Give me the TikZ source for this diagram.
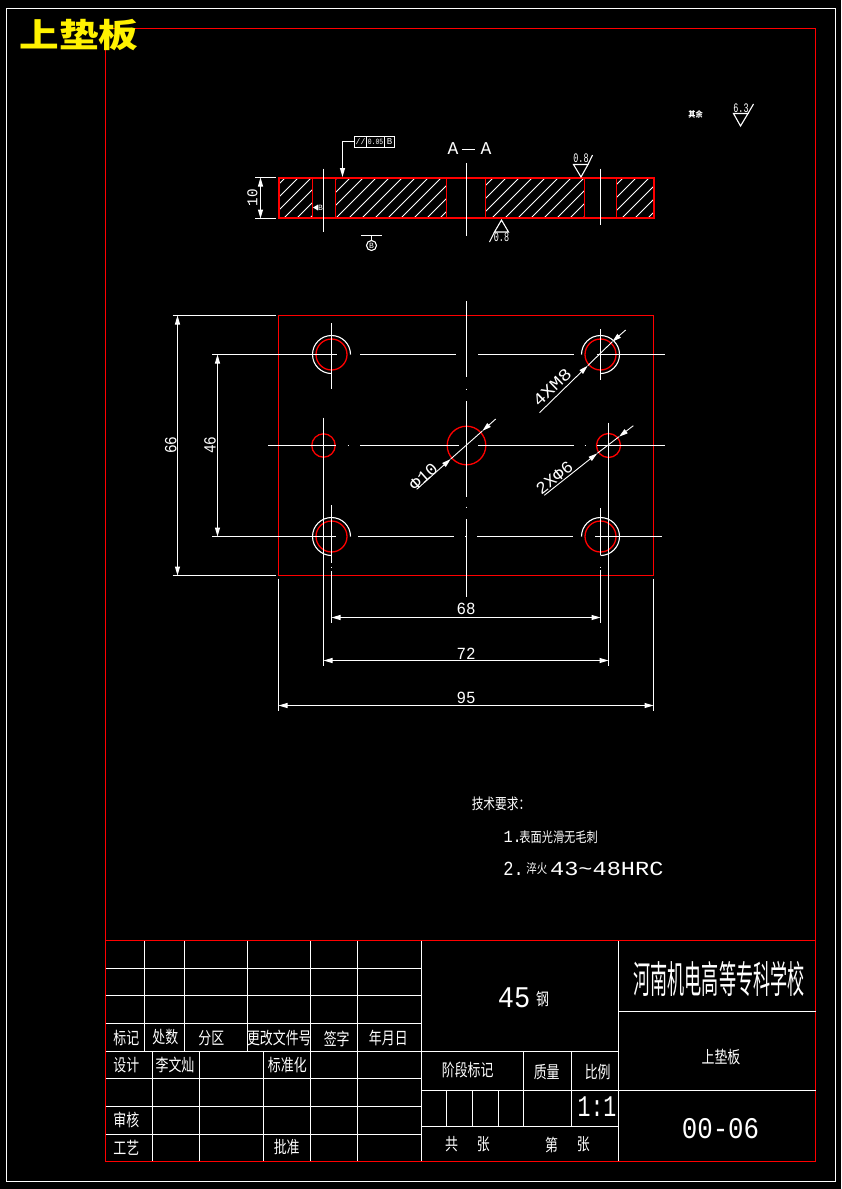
\documentclass[tikz,border=0pt]{standalone}
\usepackage{fontspec}
\newfontfamily\cjkfont{Noto Sans CJK SC}
\newfontfamily\cadfont{Liberation Mono}
\usetikzlibrary{arrows.meta}
\begin{document}
\begin{tikzpicture}
  [x=1pt, y=-1pt, line width=1.1pt, white,
    >={Stealth[length=9pt,width=5pt,inset=0pt]},
    redline/.style={%
      red, line width=1.3pt
    },
    sectionline/.style={%
      red, line width=2pt
    },
    hatchline/.style={%
      white, line width=0.8pt
    },
    dimline/.style={%
      white, line width=1pt
    },
    diagline/.style={%
      white, line width=0.9pt
    },
    cn/.style 2 args={%
      text=white, inner sep=0pt, xscale=#2, transform shape,
      font=\cjkfont\fontsize{#1}{#1}\selectfont
    },
    tablecn/.style={%
      cn={17}{0.76}
    },
    cad/.style 2 args={%
      text=white, inner sep=0pt, xscale=#2, transform shape,
      font=\cadfont\fontsize{#1}{#1}\selectfont
    },
    dimtext/.style={%
      cad={17}{#1}
    },
    dimtext/.default=0.93,
  ]

  \useasboundingbox (0,0) rectangle (841,1189);
  \fill[black] (0,0) rectangle (841,1189);

  % sheet frames
  \draw (6.5,8.5) rectangle (835.5,1181.5);
  \draw[redline] (105.5,28.5) rectangle (815.5,1161.5);

  % section A-A
  \foreach \xa/\xb in {278.5/312.5, 335.5/446.5, 485.5/584.5, 616.5/653.5}{
    \begin{scope}
      \clip (\xa,177.5) rectangle (\xb,218.5);
      \foreach \k in {450,463,...,880}
        \draw[hatchline] (\k-177,177) -- (\k-219,219);
    \end{scope}
  }
  \draw[sectionline] (278.5,178) rectangle (653.5,218);
  \foreach \xa in {312.5,335.5,446.5,485.5,584.5,616.5}
    \draw[redline] (\xa,178) -- (\xa,218);

  \draw (323.5,168.5) -- (323.5,231.5);
  \draw (466.5,163) -- (466.5,235.5);
  \draw (600.5,168.5) -- (600.5,224.5);

  % thickness dimension
  \draw[dimline] (255,177.5) -- (276,177.5);
  \draw[dimline] (255,218.5) -- (276,218.5);
  \draw[dimline,<->] (260.5,177.5) -- (260.5,218.5);
  \node[rotate=90,cad={15}{0.95}] (dimten) at (252.5,197.5) {10};

  % tolerance frame
  \coordinate (framel) at (354.5,141.5);
  \draw (354.5,136.5) rectangle (394.5,147.5);
  \draw (366.5,136.5) -- (366.5,147.5);
  \draw (384.5,136.5) -- (384.5,147.5);
  \node[cad={8}{1}] (fparallel) at (360.5,142) {//};
  \node[cad={8}{0.8}] (fvalue) at (375.5,142) {0.05};
  \node[cad={9}{1}] (fdatum) at (389.5,142) {B};
  \coordinate (framet) at (342.5,177);
  \draw[->] (framel) -- (342.5,141.5) -- (framet);

  \node[cad={18}{1}] (aleft) at (453,149) {A};
  \node[cad={18}{1}] (aright) at (486,149) {A};
  \draw (461.5,149.5) -- (475,149.5);

  % surface marks
  \draw (573.5,164.5) -- (588,164.5) -- (581,177) -- cycle;
  \draw (588,164.5) -- (592.5,155);
  \node[cad={13}{0.65}] (roughtop) at (581,158.5) {0.8};

  \draw (501.5,220) -- (494.5,232) -- (508.5,232) -- cycle;
  \draw (494.5,232) -- (489.5,242);
  \node[cad={13}{0.65}] (roughbot) at (501.5,237.5) {0.8};

  \draw (733.5,113.5) -- (748,113.5) -- (740.5,126) -- cycle;
  \draw (748,113.5) -- (753.5,104);
  \node[cad={13}{0.65}] (roughall) at (741,108) {6.3};
  \node[cn={8}{0.9},font=\cjkfont\bfseries\fontsize{8}{8}\selectfont] (rest) at (695.5,114) {其余};

  % datum and small mark
  \draw (361,235.5) -- (382,235.5);
  \draw (371.5,235.5) -- (371.5,240.5);
  \draw (371.5,245.5) circle (5);
  \node[cad={8}{1}] (datumb) at (371.5,245.5) {B};
  \fill[white] (313,207.5) -- (318,204.5) -- (318,210.5) -- cycle;
  \node[cad={8}{1}] (markb) at (320.5,208) {B};

  % plan view
  \draw[redline] (278.5,315.5) rectangle (653.5,575.5);

  \foreach \cx/\cy in {331.5/354.5, 331.5/536.5}{
    \draw (\cx,\cy) ++(90:19) arc[start angle=90,end angle=360,radius=19];
    \draw[redline] (\cx,\cy) circle (15.5);
  }
  \foreach \cx/\cy in {600.5/354.5, 600.5/536.5}{
    \draw (\cx,\cy) ++(180:19) arc[start angle=180,end angle=450,radius=19];
    \draw[redline] (\cx,\cy) circle (15.5);
  }
  \draw[redline] (323.5,445.5) circle (11.7);
  \draw[redline] (608.5,445.5) circle (12);
  \draw[redline] (466.5,445.5) circle (19.3);

  % centre lines, also the extension lines
  \foreach \xa/\xb in {212/336.7, 360/455.7, 478/574, 596.7/665}
    \draw (\xa,354.5) -- (\xb,354.5);
  \foreach \xa/\xb in {268/336, 347.5/349, 360/459, 478/574, 584.5/586, 596.7/665}
    \draw (\xa,445.5) -- (\xb,445.5);
  \foreach \xa/\xb in {212/335.7, 358/454, 465/466.5, 477/572.7, 595/661.7}
    \draw (\xa,536.5) -- (\xb,536.5);
  \foreach \ya/\yb in {301/377.3, 388.5/390, 401/496.7, 506.5/508, 519/597}
    \draw (466.5,\ya) -- (466.5,\yb);
  \foreach \ya/\yb in {323/389, 505/563, 566.5/568, 571/622.7}
    \draw (331.5,\ya) -- (331.5,\yb);
  \foreach \ya/\yb in {329/380, 508/555, 566.5/568, 570/622.7}
    \draw (600.5,\ya) -- (600.5,\yb);
  \draw (323.5,417.5) -- (323.5,666);
  \draw (608.5,422.5) -- (608.5,666);
  \draw (278.5,578.5) -- (278.5,710.5);
  \draw (653.5,578.5) -- (653.5,710.5);

  % dimensions
  \draw (172.5,315.5) -- (276,315.5);
  \draw (172.5,575.5) -- (276,575.5);
  \draw[dimline,<->] (177.5,315.5) -- (177.5,575.5);
  \node[rotate=90,dimtext=0.85] (dimsixtysix) at (170.7,445) {66};
  \draw[dimline,<->] (217.5,354.5) -- (217.5,536.5);
  \node[rotate=90,dimtext=0.85] (dimfortysix) at (210,445) {46};

  \draw[dimline,<->] (331.5,617.5) -- (600.5,617.5);
  \node[dimtext] (dimsixtyeight) at (466,609) {68};
  \draw[dimline,<->] (323.5,660.5) -- (608.5,660.5);
  \node[dimtext] (dimseventytwo) at (466,653.5) {72};
  \draw[dimline,<->] (278.5,705.5) -- (653.5,705.5);
  \node[dimtext] (dimninetyfive) at (466,698) {95};

  \coordinate (threadend) at (539.5,412.7);
  \coordinate (threadtip) at (587.7,365.7);
  \coordinate (threadtop) at (625.7,330);
  \coordinate (threadback) at (612.3,341.7);
  \draw[diagline,->] (threadend) -- (threadtip);
  \draw[diagline] (threadtip) -- (threadback);
  \draw[diagline,->] (threadtop) -- (threadback);
  \node[rotate=44,dimtext=1.15] (dimthread) at (552,387.5) {4XM8};

  \coordinate (boreend) at (416.7,489.3);
  \coordinate (boretip) at (450.7,459);
  \coordinate (boretop) at (495.7,419);
  \coordinate (boreback) at (482.3,431);
  \draw[diagline,->] (boreend) -- (boretip);
  \draw[diagline] (boretip) -- (boreback);
  \draw[diagline,->] (boretop) -- (boreback);
  \node[rotate=42,dimtext=1.05] (dimbore) at (423.5,476.5) {Φ10};

  \coordinate (pinend) at (544.3,495.3);
  \coordinate (pintip) at (597.3,453.3);
  \coordinate (pintop) at (633.3,425.7);
  \coordinate (pinback) at (619,436.7);
  \draw[diagline,->] (pinend) -- (pintip);
  \draw[diagline] (pintip) -- (pinback);
  \draw[diagline,->] (pintop) -- (pinback);
  \node[rotate=38,dimtext=1.03] (dimpin) at (554.5,478) {2XΦ6};

  % technical notes
  \node[cn={15}{0.78}] (techhead) at (501,804) {技术要求：};
  \node[cad={17}{0.9},anchor=west] (noteone) at (503,837) {1.};
  \node[cn={14}{0.8},anchor=west] (noteonetext) at (519,837) {表面光滑无毛刺};
  \node[cad={20}{0.85},anchor=west] (notetwo) at (503,869) {2.};
  \node[cn={13}{0.8},anchor=west] (notetwocn) at (526,869) {淬火};
  \node[cad={20}{1.18},anchor=west] (notetwotext) at (549.5,869) {43\char"7E 48HRC};

  % title block, left part
  \foreach \yy in {968.5,995.5,1023.5,1051.5,1078.5,1106.5,1134.5}
    \draw (105.5,\yy) -- (421.5,\yy);
  \foreach \xx in {144.5,184.5,247.5,310.5,357.5}
    \draw (\xx,940.5) -- (\xx,1051.5);
  \foreach \xx in {152.5,199.5,263.5,310.5,357.5}
    \draw (\xx,1051.5) -- (\xx,1161.5);
  \draw (421.5,940.5) -- (421.5,1161.5);

  % title block, middle part
  \draw (618.5,940.5) -- (618.5,1161.5);
  \draw (421.5,1051.5) -- (618.5,1051.5);
  \draw (421.5,1090.5) -- (618.5,1090.5);
  \draw (421.5,1126.5) -- (618.5,1126.5);
  \draw (523.5,1051.5) -- (523.5,1126.5);
  \draw (571.5,1051.5) -- (571.5,1126.5);
  \foreach \xx in {446.5,472.5,498.5}
    \draw (\xx,1090.5) -- (\xx,1126.5);

  % title block, right part
  \draw (618.5,1011.5) -- (815.5,1011.5);
  \draw (618.5,1090.5) -- (815.5,1090.5);
  \draw[redline] (105.5,940.5) -- (815.5,940.5);
  \draw[redline] (105.5,1161.5) -- (815.5,1161.5);

  \node[tablecn] (biaoji) at (126.3,1038) {标记};
  \node[tablecn] (chushu) at (165.3,1037) {处数};
  \node[tablecn] (fenqu) at (211.3,1038) {分区};
  \node[tablecn] (genggai) at (279.3,1038) {更改文件号};
  \node[tablecn] (qianzi) at (336.7,1039) {签字};
  \node[tablecn] (nianyue) at (388.3,1038) {年月日};
  \node[tablecn] (sheji) at (126.3,1065) {设计};
  \node[tablecn] (author) at (175,1065) {李文灿};
  \node[tablecn] (biaozhun) at (287.3,1065) {标准化};
  \node[tablecn] (shenhe) at (126.3,1120) {审核};
  \node[tablecn] (gongyi) at (126.3,1148) {工艺};
  \node[tablecn] (pizhun) at (286.7,1147) {批准};

  \node[cad={30}{0.9}] (material) at (514,997.5) {45};
  \node[tablecn] (gang) at (542.5,999) {钢};
  \node[tablecn] (jieduan) at (467.7,1070) {阶段标记};
  \node[tablecn] (zhiliang) at (546.7,1072) {质量};
  \node[tablecn] (bili) at (597.7,1072) {比例};
  \node[cad={30}{0.72}] (scaleval) at (597,1106.5) {1:1};
  \node[tablecn] (gong) at (451.7,1144.5) {共};
  \node[tablecn] (zhangone) at (483.3,1144.5) {张};
  \node[tablecn] (di) at (551.7,1144.5) {第};
  \node[tablecn] (zhangtwo) at (583.3,1144.5) {张};

  \node[cn={38}{0.45}] (school) at (719,978.5) {河南机电高等专科学校};
  \node[tablecn] (partname) at (721,1057.5) {上垫板};
  \node[cad={30}{0.86}] (drawingno) at (720.5,1129) {00-06};

  % corner title
  \node[text=yellow,inner sep=0pt,xscale=1.2,transform shape,font=\cjkfont\bfseries\fontsize{33}{33}\selectfont] (sheettitle) at (79,35) {上垫板};

\end{tikzpicture}
\end{document}
